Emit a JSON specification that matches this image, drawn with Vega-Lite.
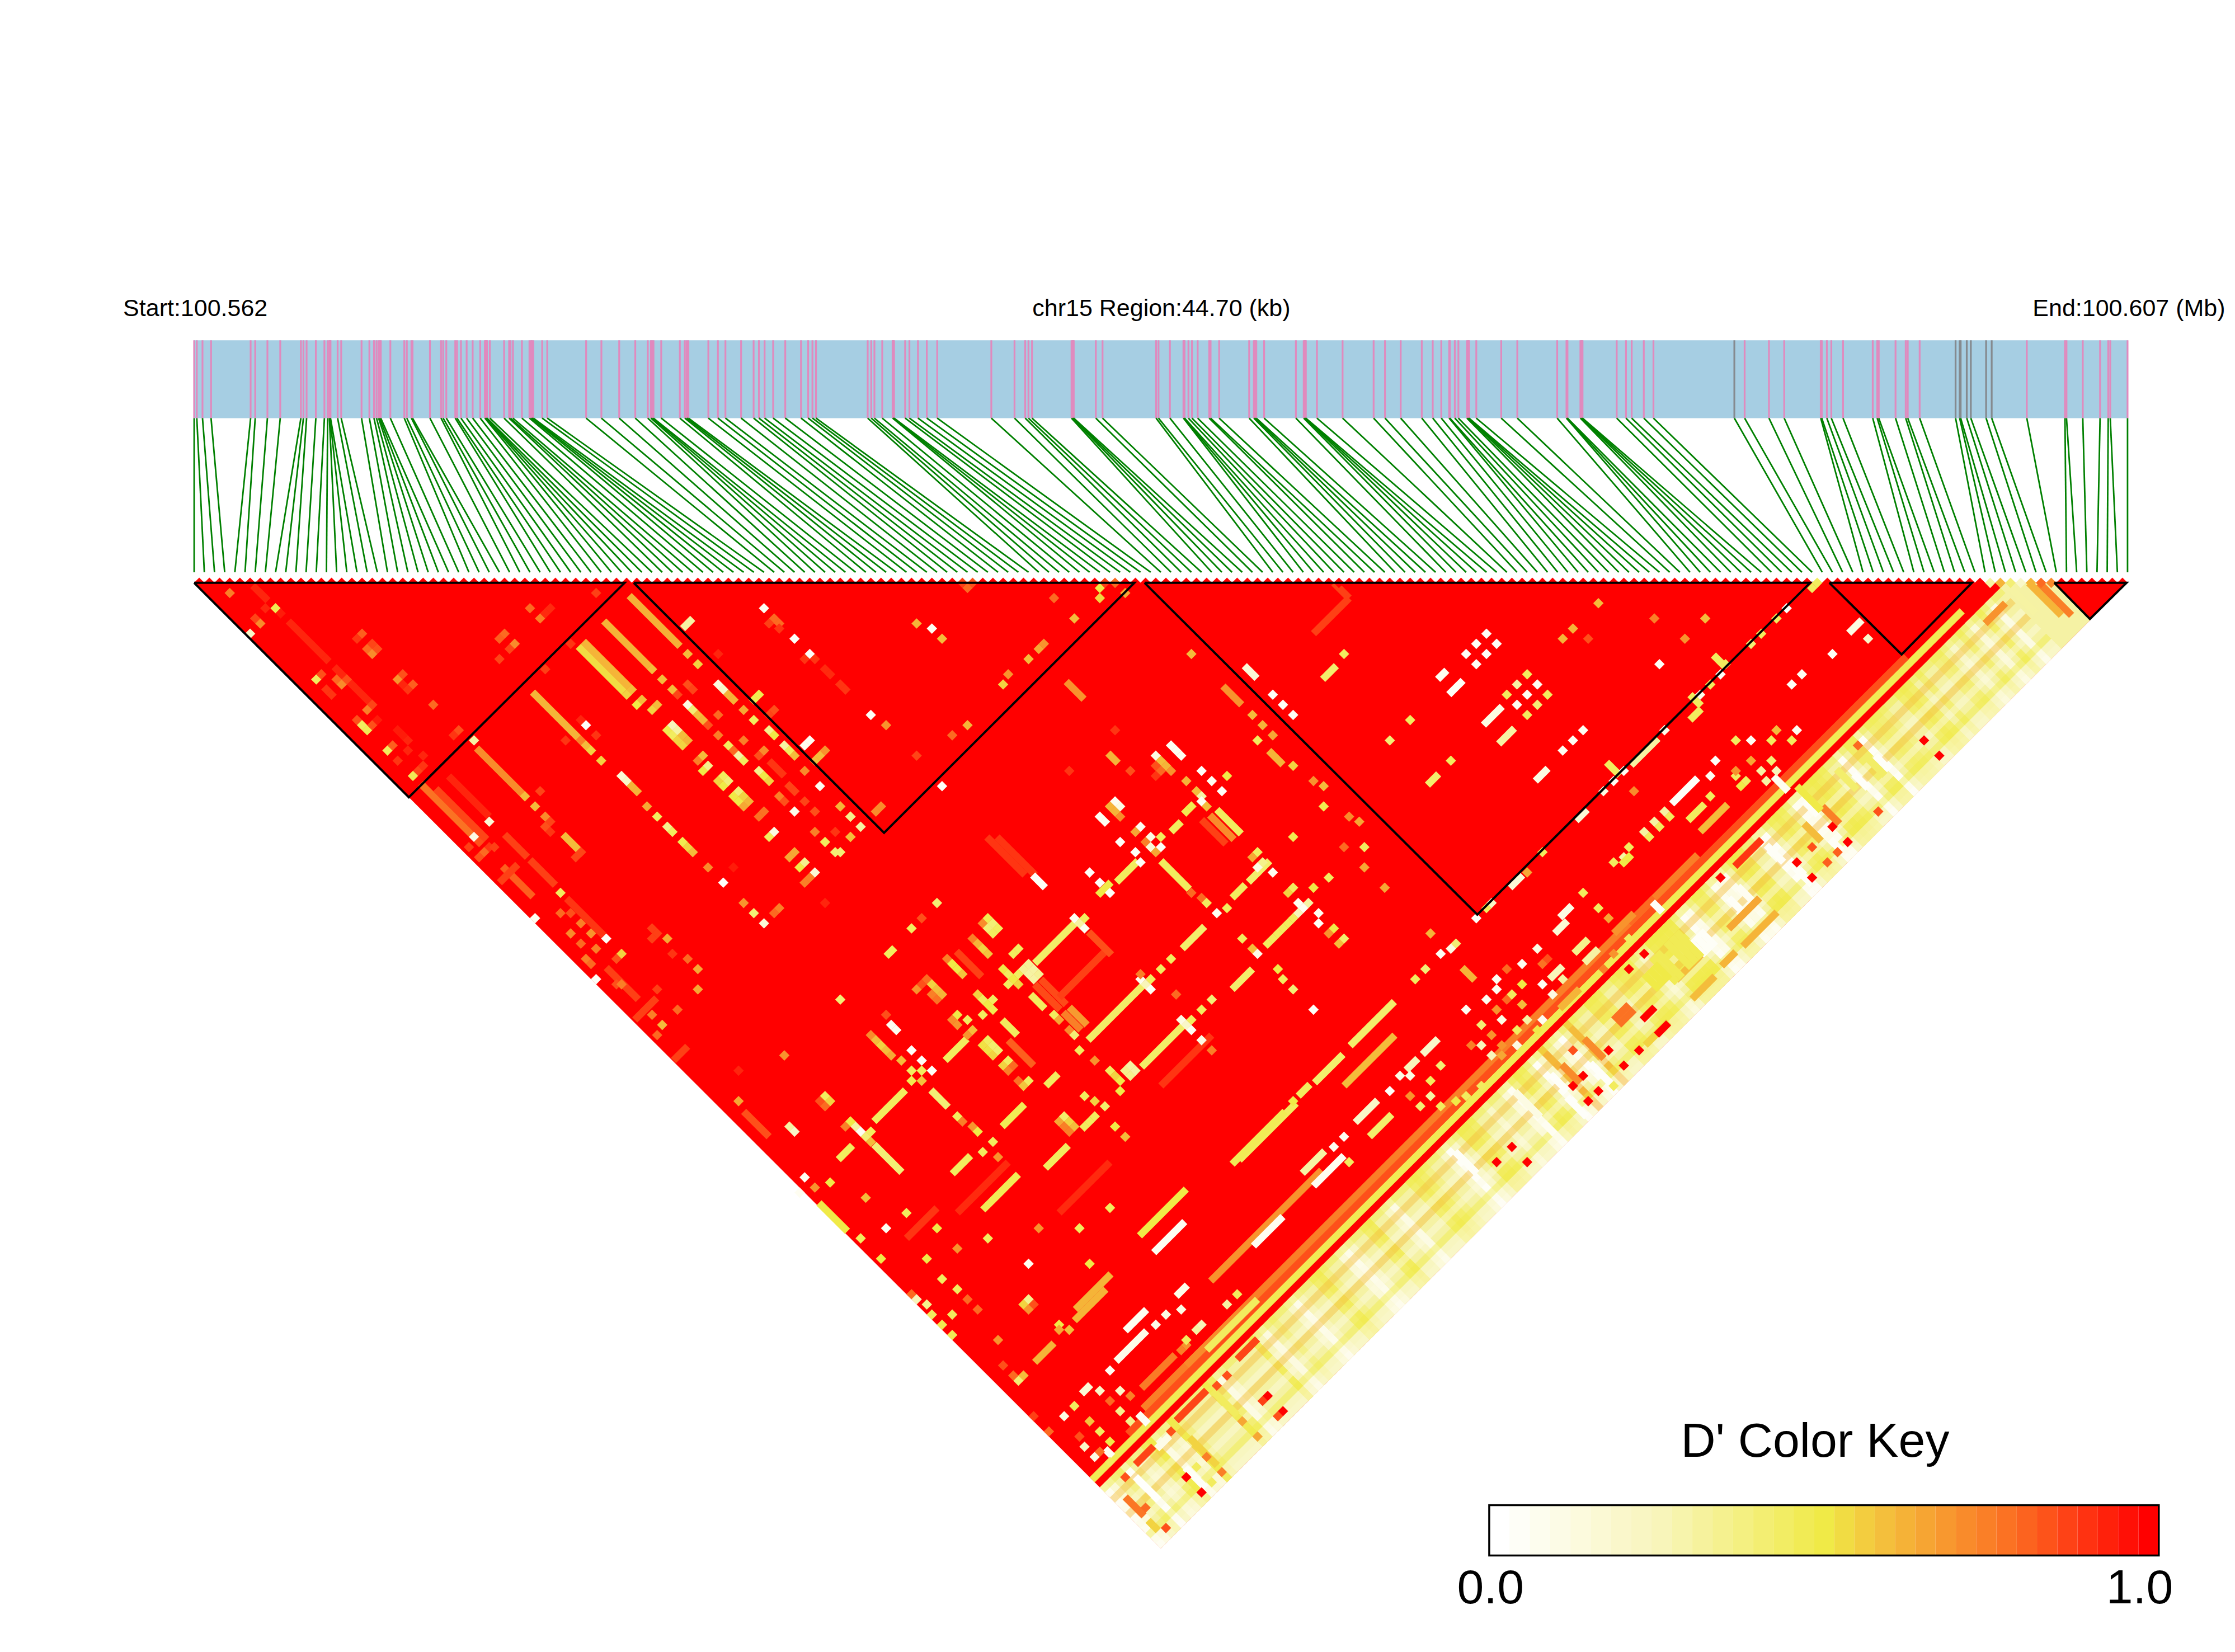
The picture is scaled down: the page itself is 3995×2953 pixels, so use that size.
{"$schema":"https://vega.github.io/schema/vega-lite/v6.json","width":3995,"height":2953,"padding":0,"autosize":{"type":"fit","contains":"padding"},"background":"white","config":{"view":{"stroke":null}},
"datasets":{
"snps":[{"t":0,"b":0},{"t":0.26,"b":1},{"t":0.82,"b":2},{"t":1.66,"b":3},{"t":5.55,"b":4},{"t":6,"b":5},{"t":7.2,"b":6},{"t":8.46,"b":7},{"t":10.49,"b":8},{"t":10.74,"b":9},{"t":11.05,"b":10},{"t":11.96,"b":11},{"t":12.8,"b":12},{"t":13.12,"b":13},{"t":13.29,"b":14},{"t":13.35,"b":15},{"t":13.4,"b":16},{"t":14.1,"b":17},{"t":14.45,"b":18},{"t":16.45,"b":19},{"t":17.22,"b":20},{"t":17.67,"b":21},{"t":17.92,"b":22},{"t":18.13,"b":23},{"t":18.23,"b":24},{"t":18.34,"b":25},{"t":19.28,"b":26},{"t":20.65,"b":27},{"t":20.9,"b":28},{"t":21.35,"b":29},{"t":21.46,"b":30},{"t":23.17,"b":31},{"t":24.26,"b":32},{"t":24.47,"b":33},{"t":24.78,"b":34},{"t":25.66,"b":35},{"t":25.83,"b":36},{"t":26.22,"b":37},{"t":26.78,"b":38},{"t":27.37,"b":39},{"t":28.11,"b":40},{"t":28.57,"b":41},{"t":28.67,"b":42},{"t":28.72,"b":43},{"t":28.78,"b":44},{"t":29.06,"b":45},{"t":30.46,"b":46},{"t":30.95,"b":47},{"t":31.09,"b":48},{"t":31.33,"b":49},{"t":32.21,"b":50},{"t":32.95,"b":51},{"t":33.12,"b":52},{"t":33.2,"b":53},{"t":33.33,"b":54},{"t":34.2,"b":55},{"t":34.7,"b":56},{"t":38.52,"b":57},{"t":40.02,"b":58},{"t":41.77,"b":59},{"t":43.35,"b":60},{"t":44.58,"b":61},{"t":44.89,"b":62},{"t":45.03,"b":63},{"t":45.14,"b":64},{"t":45.9,"b":65},{"t":47.73,"b":66},{"t":48.22,"b":67},{"t":48.4,"b":68},{"t":48.57,"b":69},{"t":50.53,"b":70},{"t":51.47,"b":71},{"t":52.21,"b":72},{"t":53.75,"b":73},{"t":54.98,"b":74},{"t":55.5,"b":75},{"t":56.06,"b":76},{"t":56.9,"b":77},{"t":58.09,"b":78},{"t":59.64,"b":79},{"t":60.34,"b":80},{"t":60.76,"b":81},{"t":61.11,"b":82},{"t":66.19,"b":83},{"t":66.54,"b":84},{"t":66.85,"b":85},{"t":67.62,"b":86},{"t":68.64,"b":87},{"t":68.7,"b":88},{"t":68.78,"b":89},{"t":69.87,"b":90},{"t":70.29,"b":91},{"t":71.13,"b":92},{"t":72,"b":93},{"t":73.02,"b":94},{"t":78.34,"b":95},{"t":80.62,"b":96},{"t":81.67,"b":97},{"t":81.99,"b":98},{"t":82.34,"b":99},{"t":86.22,"b":100},{"t":86.33,"b":101},{"t":86.38,"b":102},{"t":86.44,"b":103},{"t":88.61,"b":104},{"t":89.27,"b":105},{"t":94.53,"b":106},{"t":94.77,"b":107},{"t":95.89,"b":108},{"t":97.22,"b":109},{"t":97.27,"b":110},{"t":97.33,"b":111},{"t":97.71,"b":112},{"t":98.06,"b":113},{"t":98.62,"b":114},{"t":99.75,"b":115},{"t":99.89,"b":116},{"t":100.73,"b":117},{"t":103.68,"b":118},{"t":104.14,"b":119},{"t":104.26,"b":120},{"t":104.38,"b":121},{"t":105.15,"b":122},{"t":108.27,"b":123},{"t":109.04,"b":124},{"t":109.15,"b":125},{"t":109.2,"b":126},{"t":109.25,"b":127},{"t":110.34,"b":128},{"t":112.86,"b":129},{"t":115.91,"b":130},{"t":117.03,"b":131},{"t":118.57,"b":132},{"t":120.64,"b":133},{"t":121.72,"b":134},{"t":122.56,"b":135},{"t":123.33,"b":136},{"t":123.4,"b":137},{"t":123.89,"b":138},{"t":124.24,"b":139},{"t":125.08,"b":140},{"t":125.19,"b":141},{"t":125.24,"b":142},{"t":125.29,"b":143},{"t":126,"b":144},{"t":128.45,"b":145},{"t":130.03,"b":146},{"t":133.95,"b":147},{"t":134.86,"b":148},{"t":134.9,"b":149},{"t":134.96,"b":150},{"t":136.23,"b":151},{"t":136.33,"b":152},{"t":136.38,"b":153},{"t":136.44,"b":154},{"t":139.8,"b":155},{"t":140.71,"b":156},{"t":141.27,"b":157},{"t":142.46,"b":158},{"t":143.41,"b":159},{"t":151.36,"b":160,"g":1},{"t":152.37,"b":161},{"t":154.76,"b":162},{"t":156.26,"b":163},{"t":159.85,"b":164},{"t":159.95,"b":165},{"t":160.45,"b":166},{"t":160.89,"b":167},{"t":162.04,"b":168},{"t":164.96,"b":169},{"t":165.4,"b":170},{"t":165.55,"b":171},{"t":167.2,"b":172},{"t":168.2,"b":173},{"t":168.4,"b":174},{"t":169.57,"b":175},{"t":173.1,"b":176,"g":1},{"t":173.5,"b":177,"g":1},{"t":173.6,"b":178,"g":1},{"t":174.2,"b":179,"g":1},{"t":174.6,"b":180,"g":1},{"t":176.1,"b":181,"g":1},{"t":176.65,"b":182,"g":1},{"t":180.1,"b":183},{"t":183.85,"b":184},{"t":184,"b":185},{"t":185.6,"b":186},{"t":187.3,"b":187},{"t":188.1,"b":188},{"t":188.3,"b":189},{"t":190,"b":190}],
"plaid":[{"m":89.25,"d":178.5,"m2":95.25,"d2":190.5,"v":0.05},{"m":89.75,"d":177.5,"m2":95.75,"d2":189.5,"v":0.15},{"m":90.75,"d":175.5,"m2":96.75,"d2":187.5,"v":0.36},{"m":91.25,"d":174.5,"m2":97.25,"d2":186.5,"v":0.03},{"m":92.25,"d":172.5,"m2":98.25,"d2":184.5,"v":0.2},{"m":92.75,"d":171.5,"m2":98.75,"d2":183.5,"v":0.25},{"m":93.25,"d":170.5,"m2":99.25,"d2":182.5,"v":0.4},{"m":93.75,"d":169.5,"m2":99.75,"d2":181.5,"v":0.48},{"m":94.25,"d":168.5,"m2":100.25,"d2":180.5,"v":0.1},{"m":94.75,"d":167.5,"m2":100.75,"d2":179.5,"v":0.25},{"m":95.25,"d":166.5,"m2":101.25,"d2":178.5,"v":0.2},{"m":95.75,"d":165.5,"m2":101.75,"d2":177.5,"v":0.48},{"m":96.25,"d":164.5,"m2":102.25,"d2":176.5,"v":0.36},{"m":99.25,"d":158.5,"m2":105.25,"d2":170.5,"v":0.47},{"m":99.75,"d":157.5,"m2":105.75,"d2":169.5,"v":0.4},{"m":100.25,"d":156.5,"m2":106.25,"d2":168.5,"v":0.1},{"m":100.75,"d":155.5,"m2":106.75,"d2":167.5,"v":0.2},{"m":103.75,"d":149.5,"m2":109.75,"d2":161.5,"v":0.45},{"m":104.25,"d":148.5,"m2":110.25,"d2":160.5,"v":0.25},{"m":104.75,"d":147.5,"m2":110.75,"d2":159.5,"v":0.12},{"m":105.75,"d":145.5,"m2":111.75,"d2":157.5,"v":0.36},{"m":107.25,"d":142.5,"m2":113.25,"d2":154.5,"v":0.2},{"m":107.75,"d":141.5,"m2":113.75,"d2":153.5,"v":0.08},{"m":108.25,"d":140.5,"m2":114.25,"d2":152.5,"v":0.25},{"m":109.75,"d":137.5,"m2":115.75,"d2":149.5,"v":0.42},{"m":110.25,"d":136.5,"m2":116.25,"d2":148.5,"v":0.45},{"m":110.75,"d":135.5,"m2":116.75,"d2":147.5,"v":0.36},{"m":112.25,"d":132.5,"m2":118.25,"d2":144.5,"v":0.15},{"m":112.75,"d":131.5,"m2":118.75,"d2":143.5,"v":0.08},{"m":113.25,"d":130.5,"m2":119.25,"d2":142.5,"v":0.2},{"m":114.75,"d":127.5,"m2":120.75,"d2":139.5,"v":0.42},{"m":115.25,"d":126.5,"m2":121.25,"d2":138.5,"v":0.45},{"m":116.75,"d":123.5,"m2":122.75,"d2":135.5,"v":0.2},{"m":117.25,"d":122.5,"m2":123.25,"d2":134.5,"v":0.1},{"m":119.25,"d":118.5,"m2":125.25,"d2":130.5,"v":0.42},{"m":119.75,"d":117.5,"m2":125.75,"d2":129.5,"v":0.45},{"m":120.25,"d":116.5,"m2":126.25,"d2":128.5,"v":0.42},{"m":120.75,"d":115.5,"m2":126.75,"d2":127.5,"v":0.36},{"m":122.25,"d":112.5,"m2":128.25,"d2":124.5,"v":0.2},{"m":122.75,"d":111.5,"m2":128.75,"d2":123.5,"v":0.03},{"m":123.25,"d":110.5,"m2":129.25,"d2":122.5,"v":0.2},{"m":124.25,"d":108.5,"m2":130.25,"d2":120.5,"v":0.45},{"m":124.75,"d":107.5,"m2":130.75,"d2":119.5,"v":0.45},{"m":125.25,"d":106.5,"m2":131.25,"d2":118.5,"v":0.42},{"m":126.75,"d":103.5,"m2":132.75,"d2":115.5,"v":0.2},{"m":128.25,"d":100.5,"m2":134.25,"d2":112.5,"v":0.15},{"m":128.75,"d":99.5,"m2":134.75,"d2":111.5,"v":0.05},{"m":129.25,"d":98.5,"m2":135.25,"d2":110.5,"v":0.36},{"m":129.75,"d":97.5,"m2":135.75,"d2":109.5,"v":0.45},{"m":130.25,"d":96.5,"m2":136.25,"d2":108.5,"v":0.42},{"m":131.25,"d":94.5,"m2":137.25,"d2":106.5,"v":0.03},{"m":131.75,"d":93.5,"m2":137.75,"d2":105.5,"v":0.2},{"m":132.25,"d":92.5,"m2":138.25,"d2":104.5,"v":0.62},{"m":133.25,"d":90.5,"m2":139.25,"d2":102.5,"v":0.15},{"m":133.75,"d":89.5,"m2":139.75,"d2":101.5,"v":0.03},{"m":134.75,"d":87.5,"m2":140.75,"d2":99.5,"v":0.6},{"m":135.25,"d":86.5,"m2":141.25,"d2":98.5,"v":0.36},{"m":136.75,"d":83.5,"m2":142.75,"d2":95.5,"v":0.45},{"m":137.25,"d":82.5,"m2":143.25,"d2":94.5,"v":0.45},{"m":137.75,"d":81.5,"m2":143.75,"d2":93.5,"v":0.42},{"m":139.25,"d":78.5,"m2":145.25,"d2":90.5,"v":0.42},{"m":139.75,"d":77.5,"m2":145.75,"d2":89.5,"v":0.45},{"m":140.25,"d":76.5,"m2":146.25,"d2":88.5,"v":0.45},{"m":140.75,"d":75.5,"m2":146.75,"d2":87.5,"v":0.42},{"m":141.75,"d":73.5,"m2":147.75,"d2":85.5,"v":0.2},{"m":142.75,"d":71.5,"m2":148.75,"d2":83.5,"v":0.47},{"m":143.25,"d":70.5,"m2":149.25,"d2":82.5,"v":0.48},{"m":143.75,"d":69.5,"m2":149.75,"d2":81.5,"v":0.48},{"m":144.25,"d":68.5,"m2":150.25,"d2":80.5,"v":0.48},{"m":144.75,"d":67.5,"m2":150.75,"d2":79.5,"v":0.47},{"m":145.75,"d":65.5,"m2":151.75,"d2":77.5,"v":0.04},{"m":146.25,"d":64.5,"m2":152.25,"d2":76.5,"v":0.08},{"m":147.25,"d":62.5,"m2":153.25,"d2":74.5,"v":0.42},{"m":147.75,"d":61.5,"m2":153.75,"d2":73.5,"v":0.42},{"m":148.75,"d":59.5,"m2":154.75,"d2":71.5,"v":0.06},{"m":149.25,"d":58.5,"m2":155.25,"d2":70.5,"v":0.1},{"m":149.75,"d":57.5,"m2":155.75,"d2":69.5,"v":0.06},{"m":150.75,"d":55.5,"m2":156.75,"d2":67.5,"v":0.45},{"m":151.25,"d":54.5,"m2":157.25,"d2":66.5,"v":0.47},{"m":151.75,"d":53.5,"m2":157.75,"d2":65.5,"v":0.45},{"m":153.25,"d":50.5,"m2":159.25,"d2":62.5,"v":0.03},{"m":153.75,"d":49.5,"m2":159.75,"d2":61.5,"v":0.03},{"m":154.75,"d":47.5,"m2":160.75,"d2":59.5,"v":0.42},{"m":155.25,"d":46.5,"m2":161.25,"d2":58.5,"v":0.45},{"m":155.75,"d":45.5,"m2":161.75,"d2":57.5,"v":0.42},{"m":156.75,"d":43.5,"m2":162.75,"d2":55.5,"v":0.05},{"m":157.25,"d":42.5,"m2":163.25,"d2":54.5,"v":0.05},{"m":158.25,"d":40.5,"m2":164.25,"d2":52.5,"v":0.45},{"m":158.75,"d":39.5,"m2":164.75,"d2":51.5,"v":0.47},{"m":159.25,"d":38.5,"m2":165.25,"d2":50.5,"v":0.45},{"m":159.75,"d":37.5,"m2":165.75,"d2":49.5,"v":0.42},{"m":161.25,"d":34.5,"m2":167.25,"d2":46.5,"v":0.04},{"m":162.25,"d":32.5,"m2":168.25,"d2":44.5,"v":0.43},{"m":162.75,"d":31.5,"m2":168.75,"d2":43.5,"v":0.43},{"m":163.25,"d":30.5,"m2":169.25,"d2":42.5,"v":0.03},{"m":164.25,"d":28.5,"m2":170.25,"d2":40.5,"v":0.4},{"m":164.75,"d":27.5,"m2":170.75,"d2":39.5,"v":0.42},{"m":165.25,"d":26.5,"m2":171.25,"d2":38.5,"v":0.4},{"m":165.75,"d":25.5,"m2":171.75,"d2":37.5,"v":0.36},{"m":167.25,"d":22.5,"m2":173.25,"d2":34.5,"v":0.42},{"m":167.75,"d":21.5,"m2":173.75,"d2":33.5,"v":0.45},{"m":168.25,"d":20.5,"m2":174.25,"d2":32.5,"v":0.42},{"m":169.25,"d":18.5,"m2":175.25,"d2":30.5,"v":0.4},{"m":170.75,"d":15.5,"m2":176.75,"d2":27.5,"v":0.38},{"m":171.25,"d":14.5,"m2":177.25,"d2":26.5,"v":0.4},{"m":172.25,"d":12.5,"m2":178.25,"d2":24.5,"v":0.2},{"m":173.25,"d":10.5,"m2":179.25,"d2":22.5,"v":0.4},{"m":174.25,"d":8.5,"m2":180.25,"d2":20.5,"v":0.15},{"m":175.25,"d":6.5,"m2":181.25,"d2":18.5,"v":0.42},{"m":176.25,"d":4.5,"m2":182.25,"d2":16.5,"v":0.1}],
"cross":[{"m":177.75,"d":2.5,"m2":89.25,"d2":179.5,"v":0.5},{"m":178.75,"d":4.5,"m2":90.25,"d2":181.5,"v":0.6},{"m":179.75,"d":6.5,"m2":91.25,"d2":183.5,"v":0.1},{"m":180.25,"d":7.5,"m2":91.75,"d2":184.5,"v":0.6},{"m":181.25,"d":9.5,"m2":92.75,"d2":186.5,"v":0.1},{"m":182.25,"d":11.5,"m2":93.75,"d2":188.5,"v":0.5},{"m":182.75,"d":12.5,"m2":94.25,"d2":189.5,"v":0.1},{"m":183.25,"d":13.5,"m2":94.75,"d2":190.5,"v":0.05}],
"runs":[
{"m":173.75,"d":6.5,"m2":88.25,"d2":177.5,"v":0.47},{"m":168.25,"d":15.5,"m2":91.75,"d2":168.5,"v":0.85},{"m":147.75,"d":54.5,"m2":93.25,"d2":163.5,"v":0.75},
{"m":93.1,"d":159.5,"m2":96.4,"d2":152.9,"v":0.76},{"m":148,"d":50,"m2":150.7,"d2":44.6,"v":0.6},
{"m":61.4,"d":123,"m2":64.2,"d2":128.6,"v":0.5},{"m":77.5,"d":124.4,"m2":81,"d2":117.4,"v":0.47},{"m":86.6,"d":144,"m2":90.1,"d2":137,"v":0.62},{"m":92.9,"d":129.5,"m2":97.5,"d2":120.3,"v":0.5},{"m":102.7,"d":114.6,"m2":108.3,"d2":103.4,"v":0.45},{"m":94.3,"d":132.8,"m2":97.35,"d2":126.7,"v":0.05},{"m":91.5,"d":148.2,"m2":93.6,"d2":144,"v":0.05},{"m":99.9,"d":138.4,"m2":110.8,"d2":116.6,"v":0.7},{"m":104.1,"d":131.5,"m2":107,"d2":125.7,"v":0.05},{"m":110,"d":119.7,"m2":113,"d2":113.7,"v":0.05},{"m":97.5,"d":155,"m2":103,"d2":144,"v":0.72},{"m":99.5,"d":152,"m2":104.5,"d2":142,"v":0.45},{"m":75,"d":125,"m2":80,"d2":115,"v":0.92},{"m":85,"d":125,"m2":90,"d2":115,"v":0.92},{"m":95,"d":100,"m2":100,"d2":90,"v":0.9},{"m":70,"d":130,"m2":73,"d2":124,"v":0.9},{"m":113,"d":100,"m2":118,"d2":90,"v":0.6},
{"m":5.25,"d":0.5,"m2":7.25,"d2":4.5,"v":0.93},{"m":9.25,"d":8.5,"m2":12.75,"d2":15.5,"v":0.93},{"m":13.75,"d":17.5,"m2":17.75,"d2":25.5,"v":0.93},
{"m":42.75,"d":3.5,"m2":47.75,"d2":13.5,"v":0.63},{"m":40.25,"d":8.5,"m2":44.75,"d2":17.5,"v":0.62},{"m":37.75,"d":13.5,"m2":42.25,"d2":22.5,"v":0.53},{"m":38.25,"d":12.5,"m2":42.75,"d2":21.5,"v":0.62},{"m":33.25,"d":22.5,"m2":37.75,"d2":31.5,"v":0.62},{"m":27.75,"d":33.5,"m2":32.25,"d2":42.5,"v":0.72},
{"m":22.25,"d":40.5,"m2":27.25,"d2":50.5,"v":0.78},{"m":23.75,"d":41.5,"m2":28.75,"d2":51.5,"v":0.87},{"m":25,"d":39,"m2":29,"d2":47,"v":0.93},{"m":30.5,"d":50.5,"m2":32.75,"d2":55,"v":0.88},{"m":33,"d":55.5,"m2":35.5,"d2":60.5,"v":0.88},{"m":30.3,"d":56.8,"m2":33.3,"d2":62.8,"v":0.82},{"m":30,"d":60,"m2":31.8,"d2":56.4,"v":0.88},{"m":36.6,"d":63.1,"m2":40.25,"d2":70.4,"v":0.9},{"m":40.5,"d":76.7,"m2":43.65,"d2":83,"v":0.88},{"m":43.3,"d":87,"m2":45.45,"d2":82.7,"v":0.88},{"m":47.1,"d":95,"m2":48.5,"d2":92.2,"v":0.88},{"m":54,"d":105,"m2":56.5,"d2":110,"v":0.85},{"m":56.5,"d":36,"m2":58,"d2":39,"v":0.9},
{"m":48,"d":10,"m2":49,"d2":8,"v":0.3},{"m":36.25,"d":50.5,"m2":38.25,"d2":54.5,"v":0.6},
{"m":77.9,"d":51,"m2":81.65,"d2":58.5,"v":0.9},{"m":78.9,"d":51,"m2":82.65,"d2":58.5,"v":0.9},{"m":82.4,"d":58.5,"m2":83.65,"d2":61,"v":0.03},
{"m":100.5,"d":45.6,"m2":102.9,"d2":50.4,"v":0.45},{"m":99.8,"d":46.7,"m2":102.2,"d2":51.5,"v":0.72},{"m":99,"d":47.6,"m2":101.4,"d2":52.4,"v":0.88},
{"m":96,"d":50,"m2":97,"d2":48,"v":0.45},{"m":90.65,"d":59.9,"m2":92.75,"d2":55.7,"v":0.45},{"m":95,"d":55.7,"m2":97.8,"d2":61.3,"v":0.45},{"m":102,"d":63,"m2":103.3,"d2":60.4,"v":0.45},{"m":88.8,"d":62.5,"m2":90.1,"d2":59.9,"v":0.5},
{"m":68,"d":74.5,"m2":68.85,"d2":72.8,"v":0.45},{"m":74.9,"d":73.5,"m2":77.4,"d2":78.5,"v":0.88},{"m":82.6,"d":75.9,"m2":86.8,"d2":67.5,"v":0.43},
{"m":83.2,"d":79,"m2":85.7,"d2":84,"v":0.86},{"m":82.6,"d":80,"m2":85.1,"d2":85,"v":0.86},{"m":86,"d":84.5,"m2":87.75,"d2":88,"v":0.68},{"m":85.4,"d":85.5,"m2":87.15,"d2":89,"v":0.75},{"m":82.2,"d":82,"m2":83.6,"d2":84.8,"v":0.45},{"m":85,"d":82.6,"m2":89.8,"d2":73,"v":0.88},{"m":87.9,"d":69.7,"m2":90.15,"d2":74.2,"v":0.85},
{"m":79.4,"d":87,"m2":80.9,"d2":90,"v":0.45},{"m":73.8,"d":95,"m2":75.95,"d2":90.7,"v":0.45},{"m":80,"d":91,"m2":82.5,"d2":96,"v":0.82},{"m":83.7,"d":100,"m2":84.9,"d2":97.6,"v":0.45},{"m":93.1,"d":96.3,"m2":97.15,"d2":88.2,"v":0.43},{"m":87.85,"d":91,"m2":93.35,"d2":80,"v":0.43},{"m":97.1,"d":73,"m2":99.3,"d2":68.6,"v":0.42},{"m":102,"d":81,"m2":104,"d2":77,"v":0.42},{"m":103.6,"d":59.9,"m2":105.7,"d2":55.7,"v":0.42},{"m":113.6,"d":92.1,"m2":117.95,"d2":83.4,"v":0.42},{"m":102,"d":115.4,"m2":107.2,"d2":105,"v":0.47},{"m":108.5,"d":102,"m2":109.65,"d2":99.7,"v":0.45},{"m":110.1,"d":99.4,"m2":112.9,"d2":93.8,"v":0.42},{"m":114.1,"d":107.2,"m2":116.3,"d2":102.8,"v":0.2},{"m":115.5,"d":110,"m2":117.7,"d2":105.6,"v":0.42},{"m":83.65,"d":116.2,"m2":85.9,"d2":111.7,"v":0.45},{"m":74.5,"d":117.3,"m2":76.3,"d2":113.7,"v":0.45},{"m":79.4,"d":108,"m2":81.6,"d2":103.6,"v":0.47},{"m":66.8,"d":107,"m2":69.9,"d2":100.8,"v":0.45},{"m":72.4,"d":100.8,"m2":74.1,"d2":104.2,"v":0.4},{"m":66.8,"d":111.5,"m2":69.55,"d2":117,"v":0.4},{"m":63.3,"d":114.5,"m2":64.7,"d2":111.7,"v":0.45},{"m":108.9,"d":117.2,"m2":111.1,"d2":112.8,"v":0.3},{"m":89.8,"d":34.5,"m2":90.8,"d2":36.5,"v":0.62},{"m":105.6,"d":34,"m2":107,"d2":36.8,"v":0.62},
{"m":121.2,"d":40.8,"m2":122.3,"d2":38.6,"v":0.42},{"m":131.8,"d":40,"m2":133.05,"d2":37.5,"v":0.1},{"m":128.2,"d":32.7,"m2":129.75,"d2":29.6,"v":0.3},{"m":138.8,"d":36.3,"m2":140.1,"d2":38.9,"v":0.45},{"m":135.8,"d":47.8,"m2":136.9,"d2":45.6,"v":0.15},{"m":129.3,"d":61,"m2":130.55,"d2":58.5,"v":0.15},{"m":141.2,"d":36.9,"m2":143.85,"d2":31.6,"v":0.3},{"m":145.2,"d":44.5,"m2":147.75,"d2":39.4,"v":0.03},{"m":146.8,"d":47.8,"m2":148.45,"d2":44.5,"v":0.45},{"m":134.2,"d":66.9,"m2":135.4,"d2":64.5,"v":0.1},{"m":133.7,"d":70,"m2":134.95,"d2":67.5,"v":0.15},{"m":124.6,"d":76.7,"m2":125.85,"d2":79.2,"v":0.62},{"m":133.2,"d":79,"m2":134.5,"d2":76.4,"v":0.25},{"m":155.2,"d":39.1,"m2":156.65,"d2":42,"v":0.05},
{"m":120.7,"d":93.8,"m2":122.25,"d2":90.7,"v":0.2},{"m":119.1,"d":96.9,"m2":120.25,"d2":94.6,"v":0.25},{"m":134.2,"d":84.8,"m2":136.15,"d2":80.9,"v":0.62},{"m":136.6,"d":75.8,"m2":138,"d2":73,"v":0.3},{"m":135.6,"d":73.9,"m2":137,"d2":71.1,"v":0.35},{"m":141,"d":68,"m2":143.5,"d2":63,"v":0.8},{"m":139.5,"d":70,"m2":141.5,"d2":66,"v":0.7},{"m":143.3,"d":63.8,"m2":144.3,"d2":65.8,"v":0.03},
{"m":154.5,"d":52.6,"m2":156.2,"d2":56,"v":0.03},{"m":157.2,"d":56.8,"m2":159,"d2":60.4,"v":0.03},{"m":150.8,"d":63,"m2":152.2,"d2":65.8,"v":0.03},{"m":151.7,"d":60.7,"m2":153.4,"d2":64.1,"v":0.05},{"m":165.2,"d":35,"m2":166.6,"d2":37.8,"v":0.02},{"m":163.1,"d":38.6,"m2":164.5,"d2":41.4,"v":0.02},{"m":160.8,"d":51.5,"m2":161.9,"d2":53.7,"v":0.03},{"m":158.2,"d":43.9,"m2":159.6,"d2":46.7,"v":0.03},{"m":137.2,"d":95.5,"m2":139.45,"d2":100,"v":0.02},{"m":133.3,"d":97.7,"m2":134.95,"d2":101,"v":0.02},{"m":134.9,"d":102.2,"m2":136.85,"d2":106.1,"v":0.02},{"m":129.8,"d":101.1,"m2":132.3,"d2":106.1,"v":0.1},{"m":123.9,"d":112.9,"m2":126.05,"d2":117.2,"v":0.03},{"m":132.6,"d":107.2,"m2":133.75,"d2":109.5,"v":0.05},{"m":148,"d":69.5,"m2":149.5,"d2":72.5,"v":0.03},{"m":147.5,"d":70.5,"m2":149,"d2":73.5,"v":0.03},{"m":147,"d":71.5,"m2":148.5,"d2":74.5,"v":0.03},
{"m":134.4,"d":95.8,"m2":136.2,"d2":99.4,"v":0.72},{"m":136.6,"d":90.7,"m2":138.55,"d2":94.6,"v":0.72},{"m":145.6,"d":79.2,"m2":148.1,"d2":74.2,"v":0.6},{"m":147.2,"d":82.9,"m2":149.45,"d2":78.4,"v":0.6},{"m":160,"d":45,"m2":161.7,"d2":48.4,"v":0.75},{"m":158.2,"d":48.4,"m2":159.9,"d2":51.8,"v":0.6},{"m":150.8,"d":69.1,"m2":153.85,"d2":63,"v":0.65},{"m":152.2,"d":72.5,"m2":155.55,"d2":65.8,"v":0.62},{"m":150.1,"d":76.4,"m2":151.5,"d2":73.6,"v":0.62},{"m":151.4,"d":56.8,"m2":154.05,"d2":51.5,"v":0.9},{"m":161.4,"d":37.7,"m2":163.4,"d2":41.7,"v":0.42},{"m":164.2,"d":35,"m2":166.15,"d2":38.9,"v":0.43},{"m":157.5,"d":41,"m2":159.9,"d2":45.8,"v":0.5},
{"m":144.65,"d":71.7,"m2":147.15,"d2":76.7,"v":0.47},{"m":145.15,"d":70.7,"m2":147.65,"d2":75.7,"v":0.47},{"m":145.65,"d":69.7,"m2":148.15,"d2":74.7,"v":0.47},{"m":143.75,"d":73.7,"m2":146.25,"d2":78.7,"v":0.47},{"m":143.25,"d":74.7,"m2":145.75,"d2":79.7,"v":0.47},{"m":143.5,"d":76,"m2":145,"d2":79,"v":0.5},{"m":143,"d":77,"m2":144.5,"d2":80,"v":0.5},{"m":142.5,"d":78,"m2":144,"d2":81,"v":0.5},{"m":142.6,"d":92,"m2":144.9,"d2":87.4,"v":0.55},
{"m":139.5,"d":87,"m2":141,"d2":84,"v":0.78},{"m":140,"d":88,"m2":141.5,"d2":85,"v":0.78},
{"m":142.3,"d":87,"m2":143.55,"d2":84.5,"v":1},{"m":143.7,"d":90,"m2":144.9,"d2":87.6,"v":1},
{"m":86.5,"d":146.2,"m2":89.6,"d2":140,"v":0.62},{"m":82.6,"d":154.4,"m2":84.5,"d2":150.6,"v":0.62},{"m":90.6,"d":154.2,"m2":93.6,"d2":148.2,"v":0.08},{"m":96.5,"d":141.4,"m2":97.6,"d2":139.2,"v":0.08},{"m":87.2,"d":160.6,"m2":88.1,"d2":158.8,"v":0.15},{"m":89.5,"d":171.4,"m2":90.25,"d2":172.9,"v":0.05},
{"m":91.5,"d":180.9,"m2":93.35,"d2":184.6,"v":0.77},{"m":96.5,"d":165.9,"m2":99.5,"d2":159.9,"v":0.87},{"m":102.5,"d":153.8,"m2":104.5,"d2":149.8,"v":0.87},{"m":92.5,"d":174.5,"m2":94.3,"d2":170.9,"v":0.87},{"m":92.5,"d":176.9,"m2":94.8,"d2":181.5,"v":0.01},{"m":97.4,"d":175.1,"m2":99.4,"d2":179.1,"v":0.03},{"m":94.6,"d":171.4,"m2":95.85,"d2":168.9,"v":0.08},{"m":100.1,"d":160,"m2":102.5,"d2":164.8,"v":0.45},{"m":97.8,"d":169.2,"m2":100.55,"d2":174.7,"v":0.55},
{"m":181.3,"d":1,"m2":184.5,"d2":7.4,"v":0.75},{"m":180.3,"d":1,"m2":183.5,"d2":7.4,"v":0.62},{"m":178.5,"d":2,"m2":181,"d2":7,"v":0.3},{"m":176,"d":9,"m2":178,"d2":5,"v":0.7},
{"m":110.9,"d":20,"m2":112.25,"d2":17.3,"v":0.42},{"m":103.2,"d":17.3,"m2":104.45,"d2":19.8,"v":0.15},{"m":101.1,"d":21.3,"m2":102.95,"d2":25,"v":0.7},{"m":85.7,"d":20.4,"m2":87.45,"d2":23.9,"v":0.7},{"m":122.2,"d":20,"m2":123.1,"d2":18.2,"v":0.05},{"m":123.3,"d":23,"m2":124.7,"d2":20.2,"v":0.03},{"m":126.7,"d":29,"m2":128.55,"d2":25.3,"v":0.1},{"m":112,"d":1,"m2":113.5,"d2":4,"v":0.88},{"m":113.5,"d":4,"m2":110,"d2":11,"v":0.88},{"m":162.6,"d":10.9,"m2":163.9,"d2":8.3,"v":0.1},{"m":149.3,"d":15.2,"m2":150.5,"d2":17.6,"v":0.45},{"m":147,"d":23,"m2":148.1,"d2":25.2,"v":0.45},{"m":147,"d":28,"m2":148.1,"d2":25.8,"v":0.45}
],
"cells":[
{"m":65.5,"d":130,"v":0.45},{"m":67.5,"d":134,"v":0.5},{"m":72,"d":134,"v":0.5},{"m":73.5,"d":138,"v":0.45},{"m":74.5,"d":145,"v":0.45},{"m":81.5,"d":143,"v":0.55},{"m":85,"d":147,"v":0.5},{"m":60,"d":118,"v":0.05},{"m":61,"d":120,"v":0.7},{"m":59.5,"d":121,"v":0.05},{"m":62.5,"d":119,"v":0.5},{"m":66,"d":122,"v":0.6},{"m":70,"d":125,"v":0.45},{"m":73,"d":128,"v":0.5},{"m":75,"d":132,"v":0.7},{"m":68,"d":128,"v":0.05},{"m":78,"d":130,"v":0.45},{"m":83,"d":128,"v":0.7},{"m":87,"d":128,"v":0.45},{"m":90,"d":124,"v":0.45},{"m":82,"d":135,"v":0.05},{"m":88,"d":135,"v":0.5},
{"m":3.5,"d":3,"v":0.75},{"m":8,"d":6,"v":0.48},{"m":7,"d":6,"v":0.93},{"m":8.5,"d":7,"v":0.95},{"m":6.5,"d":9,"v":0.72},{"m":6,"d":8,"v":0.87},{"m":5.5,"d":11,"v":0.2},{"m":12,"d":20,"v":0.45},{"m":12.5,"d":19,"v":0.85},{"m":14,"d":20,"v":0.8},{"m":14.5,"d":21,"v":0.72},{"m":15,"d":20,"v":0.85},{"m":16.5,"d":11,"v":0.82},{"m":16,"d":12,"v":0.9},{"m":17,"d":14,"v":0.8},{"m":17.5,"d":13,"v":0.87},{"m":17.5,"d":15,"v":0.72},{"m":18,"d":14,"v":0.85},{"m":13,"d":16,"v":0.93},{"m":13,"d":22,"v":0.9},{"m":13.5,"d":23,"v":0.9},{"m":17.5,"d":25,"v":0.87},{"m":17,"d":26,"v":0.75},{"m":16,"d":28,"v":0.85},{"m":16.5,"d":29,"v":0.45},{"m":17,"d":30,"v":0.47},{"m":17.5,"d":29,"v":0.85},{"m":18,"d":28,"v":0.95},{"m":20,"d":30,"v":0.95},{"m":20.5,"d":31,"v":0.95},{"m":20,"d":20,"v":0.7},{"m":20.5,"d":19,"v":0.85},{"m":21.5,"d":21,"v":0.82},{"m":21,"d":22,"v":0.9},{"m":20.5,"d":21,"v":0.93},{"m":23.5,"d":25,"v":0.8},{"m":19,"d":34,"v":0.45},{"m":19.5,"d":33,"v":0.82},{"m":21,"d":32,"v":0.93},{"m":21,"d":34,"v":0.93},{"m":20,"d":36,"v":0.9},{"m":22.5,"d":35,"v":0.93},{"m":22,"d":38,"v":0.87},{"m":21.5,"d":39,"v":0.47},{"m":22.5,"d":37,"v":0.9},{"m":25.5,"d":31,"v":0.9},{"m":26,"d":30,"v":0.85},{"m":30.5,"d":11,"v":0.8},{"m":30,"d":12,"v":0.82},{"m":31.5,"d":13,"v":0.72},{"m":31,"d":14,"v":0.87},{"m":30,"d":16,"v":0.87},{"m":33,"d":6,"v":0.8},{"m":34,"d":8,"v":0.75},{"m":35,"d":6,"v":0.92},{"m":34.5,"d":7,"v":0.92},{"m":39.5,"d":3,"v":0.88},{"m":37,"d":13,"v":0.9},{"m":34.5,"d":18,"v":0.88},{"m":45,"d":18,"v":0.6},{"m":43,"d":22,"v":0.6},{"m":42.5,"d":23,"v":0.55},{"m":43.5,"d":25,"v":0.5},{"m":44,"d":24,"v":0.6},{"m":45,"d":26,"v":0.55},{"m":45.5,"d":25,"v":0.6},{"m":46,"d":20,"v":0.6},{"m":47,"d":22,"v":0.6},{"m":47.5,"d":23,"v":0.87},{"m":48.5,"d":21,"v":0.85},{"m":49,"d":22,"v":0.87},{"m":56,"d":6,"v":0.05},{"m":57,"d":8,"v":0.8},{"m":57.5,"d":9,"v":0.8},{"m":56.5,"d":9,"v":0.88},{"m":57.5,"d":10,"v":0.9},{"m":59,"d":12,"v":0.03},{"m":60.5,"d":15,"v":0.02},{"m":61,"d":16,"v":0.9},{"m":60,"d":16,"v":0.9},{"m":62.5,"d":19,"v":0.92},{"m":62,"d":18,"v":0.92},{"m":63.5,"d":21,"v":0.9},{"m":64,"d":22,"v":0.9},{"m":51.5,"d":15,"v":0.93},{"m":48.5,"d":15,"v":0.6},{"m":49.5,"d":17,"v":0.55},{"m":51.5,"d":21,"v":0.12},{"m":52,"d":22,"v":0.2},{"m":52.5,"d":23,"v":0.62},{"m":53,"d":24,"v":0.62},{"m":55,"d":24,"v":0.48},{"m":55.5,"d":23,"v":0.48},{"m":54,"d":26,"v":0.65},{"m":55,"d":28,"v":0.45},{"m":56.5,"d":30,"v":0.35},{"m":57,"d":31,"v":0.5},{"m":57,"d":26,"v":0.85},{"m":56.5,"d":27,"v":0.87},{"m":51.5,"d":27,"v":0.8},{"m":48.5,"d":25,"v":0.1},{"m":49,"d":26,"v":0.4},{"m":49.5,"d":27,"v":0.6},{"m":50,"d":28,"v":0.62},{"m":50.5,"d":29,"v":0.85},{"m":46.5,"d":30,"v":0.48},{"m":47,"d":29,"v":0.25},{"m":47,"d":31,"v":0.45},{"m":47.5,"d":30,"v":0.3},{"m":47.5,"d":32,"v":0.55},{"m":48,"d":31,"v":0.6},{"m":48,"d":33,"v":0.55},{"m":48.5,"d":32,"v":0.62},{"m":38.5,"d":29,"v":0.02},{"m":38,"d":28,"v":0.93},{"m":39.5,"d":31,"v":0.9},{"m":38,"d":32,"v":0.75},{"m":38.5,"d":33,"v":0.6},{"m":39,"d":34,"v":0.55},{"m":40,"d":36,"v":0.55},{"m":27.5,"d":32,"v":0.3},{"m":32.5,"d":43,"v":0.6},{"m":33.5,"d":45,"v":0.6},{"m":34.5,"d":47,"v":0.72},{"m":35,"d":48,"v":0.87},{"m":34.5,"d":49,"v":0.85},{"m":35,"d":50,"v":0.9},{"m":34,"d":42,"v":0.87},{"m":38,"d":54,"v":0.87},{"m":37.5,"d":55,"v":0.87},{"m":36.5,"d":32,"v":0.9},{"m":42,"d":39,"v":0.15},{"m":42.5,"d":40,"v":0.2},{"m":43,"d":41,"v":0.62},{"m":43.5,"d":42,"v":0.62},{"m":44.5,"d":45,"v":0.65},{"m":45.5,"d":47,"v":0.45},{"m":46.5,"d":49,"v":0.35},{"m":47,"d":50,"v":0.45},{"m":48,"d":52,"v":0.48},{"m":48.5,"d":53,"v":0.55},{"m":49,"d":54,"v":0.6},{"m":50.5,"d":57,"v":0.72},{"m":53,"d":57,"v":0.95},{"m":52,"d":60,"v":0.02},{"m":49.5,"d":36,"v":0.75},{"m":50,"d":35,"v":0.6},{"m":50,"d":38,"v":0.5},{"m":50.5,"d":37,"v":0.35},{"m":51.5,"d":40,"v":0.55},{"m":52,"d":39,"v":0.45},{"m":52,"d":41,"v":0.5},{"m":52.5,"d":40,"v":0.4},{"m":53,"d":43,"v":0.5},{"m":53.5,"d":42,"v":0.4},{"m":53.5,"d":44,"v":0.5},{"m":54,"d":43,"v":0.55},{"m":54,"d":45,"v":0.65},{"m":54.5,"d":44,"v":0.62},{"m":51.5,"d":31,"v":0.75},{"m":52.5,"d":33,"v":0.45},{"m":53,"d":34,"v":0.8},{"m":53.5,"d":35,"v":0.3},{"m":54,"d":36,"v":0.45},{"m":54,"d":32,"v":0.75},{"m":55.5,"d":35,"v":0.85},{"m":56,"d":34,"v":0.72},{"m":55.5,"d":38,"v":0.35},{"m":56,"d":39,"v":0.5},{"m":56.5,"d":40,"v":0.55},{"m":58,"d":33,"v":0.3},{"m":58.5,"d":34,"v":0.45},{"m":59,"d":35,"v":0.6},{"m":60,"d":33,"v":0.05},{"m":60.5,"d":32,"v":0.05},{"m":61,"d":36,"v":0.6},{"m":61.5,"d":35,"v":0.6},{"m":62,"d":34,"v":0.7},{"m":60,"d":38,"v":0.72},{"m":61.5,"d":41,"v":0.05},{"m":58.5,"d":41,"v":0.87},{"m":59,"d":42,"v":0.87},{"m":57.5,"d":43,"v":0.75},{"m":58,"d":44,"v":0.85},{"m":60,"d":44,"v":0.87},{"m":59,"d":46,"v":0.08},{"m":61,"d":46,"v":0.85},{"m":63.5,"d":45,"v":0.7},{"m":64.5,"d":47,"v":0.4},{"m":55.5,"d":47,"v":0.78},{"m":56,"d":46,"v":0.78},{"m":57,"d":50,"v":0.1},{"m":56.5,"d":51,"v":0.45},{"m":61,"d":50,"v":0.75},{"m":63,"d":50,"v":0.9},{"m":62,"d":52,"v":0.45},{"m":64.5,"d":51,"v":0.65},{"m":63,"d":54,"v":0.4},{"m":58.5,"d":55,"v":0.65},{"m":59,"d":54,"v":0.65},{"m":60,"d":56,"v":0.35},{"m":59.5,"d":57,"v":0.5},{"m":61,"d":58,"v":0.15},{"m":60,"d":60,"v":0.75},{"m":60.5,"d":59,"v":0.75},{"m":54,"d":64,"v":0.7},{"m":55,"d":66,"v":0.4},{"m":56,"d":68,"v":0.15},{"m":57.5,"d":65,"v":0.75},{"m":57,"d":66,"v":0.8},{"m":62,"d":64,"v":0.93},{"m":46.5,"d":71,"v":0.65},{"m":45,"d":69,"v":0.88},{"m":45.5,"d":70,"v":0.88},{"m":45,"d":71,"v":0.88},{"m":47,"d":74,"v":0.9},{"m":48.5,"d":75,"v":0.8},{"m":49.5,"d":77,"v":0.65},{"m":49.5,"d":81,"v":0.65},{"m":45.5,"d":81,"v":0.88},{"m":63.5,"d":83,"v":0.4},{"m":29,"d":48,"v":0.15},{"m":27.5,"d":51,"v":0.1},{"m":28,"d":52,"v":0.85},{"m":29,"d":53,"v":0.9},{"m":29.5,"d":53,"v":0.88},{"m":28.5,"d":54,"v":0.8},{"m":28,"d":55,"v":0.85},{"m":27,"d":53,"v":0.88},{"m":33.5,"d":67,"v":0.05},{"m":36,"d":62,"v":0.45},{"m":37,"d":66,"v":0.85},{"m":36,"d":66,"v":0.8},{"m":38,"d":68,"v":0.75},{"m":37,"d":70,"v":0.72},{"m":39,"d":70,"v":0.7},{"m":38,"d":72,"v":0.8},{"m":39.5,"d":73,"v":0.75},{"m":38.5,"d":75,"v":0.75},{"m":39,"d":76,"v":0.8},{"m":40.5,"d":71,"v":0.03},{"m":42,"d":74,"v":0.55},{"m":41.5,"d":75,"v":0.85},{"m":41.5,"d":80,"v":0.85},{"m":42,"d":80,"v":0.75},{"m":39.5,"d":79,"v":0.03},{"m":46,"d":88,"v":0.6},{"m":45,"d":86,"v":0.75},{"m":45.5,"d":90,"v":0.8},{"m":47.5,"d":85,"v":0.8},{"m":58,"d":94,"v":0.7},{"m":53.5,"d":97,"v":0.93},{"m":62,"d":102,"v":0.45},{"m":62.5,"d":103,"v":0.55},{"m":61.5,"d":103,"v":0.85},{"m":62,"d":104,"v":0.8},{"m":53.5,"d":103,"v":0.65},{"m":58.5,"d":108,"v":0.3},{"m":59,"d":109,"v":0.2},{"m":64.5,"d":107,"v":0.45},
{"m":73.5,"d":41,"v":0.03},{"m":67,"d":46,"v":0.72},{"m":67.5,"d":45,"v":0.72},{"m":64.5,"d":47,"v":0.35},{"m":65.5,"d":49,"v":0.3},{"m":63.5,"d":45,"v":0.62},{"m":64.5,"d":51,"v":0.6},{"m":63.5,"d":54,"v":0.4},{"m":71,"d":35,"v":0.87},{"m":86,"d":38,"v":0.9},{"m":92,"d":38,"v":0.85},{"m":90.5,"d":30,"v":0.9},{"m":74.5,"d":31,"v":0.8},{"m":96,"d":33,"v":0.05},{"m":96.5,"d":34,"v":0.05},{"m":97,"d":35,"v":0.05},{"m":94.5,"d":35,"v":0.1},{"m":95,"d":36,"v":0.6},{"m":95.5,"d":37,"v":0.62},{"m":96,"d":38,"v":0.7},{"m":94.5,"d":37,"v":0.85},{"m":95,"d":38,"v":0.8},{"m":94.5,"d":39,"v":0.9},{"m":99,"d":38,"v":0.03},{"m":100,"d":40,"v":0.05},{"m":101,"d":42,"v":0.03},{"m":101.5,"d":39,"v":0.5},{"m":97.5,"d":40,"v":0.62},{"m":98.5,"d":42,"v":0.6},{"m":99,"d":43,"v":0.3},{"m":99,"d":44,"v":0.05},{"m":99.5,"d":45,"v":0.6},{"m":97.5,"d":46,"v":0.48},{"m":98,"d":45,"v":0.48},{"m":89,"d":47,"v":0.05},{"m":89.5,"d":48,"v":0.05},{"m":90.5,"d":44,"v":0.05},{"m":91,"d":45,"v":0.1},{"m":90,"d":45,"v":0.62},{"m":90.5,"d":46,"v":0.62},{"m":91,"d":47,"v":0.72},{"m":93,"d":49,"v":0.05},{"m":92.5,"d":50,"v":0.65},{"m":91,"d":52,"v":0.03},{"m":92.5,"d":54,"v":0.03},{"m":94,"d":51,"v":0.1},{"m":95,"d":51,"v":0.45},{"m":93.5,"d":52,"v":0.75},{"m":94,"d":53,"v":0.15},{"m":95,"d":53,"v":0.03},{"m":94.5,"d":54,"v":0.65},{"m":93,"d":56,"v":0.03},{"m":88,"d":58,"v":0.03},{"m":89,"d":60,"v":0.03},{"m":90,"d":62,"v":0.03},{"m":98,"d":62,"v":0.8},{"m":99,"d":63,"v":0.8},{"m":99.5,"d":64,"v":0.45},{"m":100.5,"d":66,"v":0.05},{"m":101.5,"d":65,"v":0.45},{"m":73,"d":64,"v":0.4},{"m":70.5,"d":69,"v":0.45},{"m":71.5,"d":67,"v":0.85},{"m":77.5,"d":68,"v":0.72},{"m":78,"d":67,"v":0.48},{"m":78,"d":69,"v":0.4},{"m":78.5,"d":68,"v":0.4},{"m":78.5,"d":70,"v":0.45},{"m":79,"d":69,"v":0.45},{"m":76.5,"d":71,"v":0.75},{"m":77,"d":72,"v":0.62},{"m":77.5,"d":73,"v":0.55},{"m":78,"d":74,"v":0.58},{"m":74,"d":75,"v":0.75},{"m":74.5,"d":76,"v":0.5},{"m":75,"d":77,"v":0.5},{"m":75.5,"d":78,"v":0.58},{"m":71,"d":81,"v":0.7},{"m":71.5,"d":80,"v":0.85},{"m":72,"d":79,"v":0.8},{"m":72.5,"d":80,"v":0.55},{"m":73,"d":81,"v":0.6},{"m":73.5,"d":82,"v":0.62},{"m":72.5,"d":82,"v":0.75},{"m":73,"d":83,"v":0.78},{"m":68,"d":86,"v":0.85},{"m":68.5,"d":88,"v":0.05},{"m":69,"d":89,"v":0.05},{"m":66.5,"d":90,"v":0.72},{"m":67,"d":91,"v":0.6},{"m":67.5,"d":92,"v":0.55},{"m":68,"d":93,"v":0.6},{"m":68.5,"d":94,"v":0.65},{"m":80.5,"d":74,"v":0.45},{"m":81,"d":73,"v":0.45},{"m":81.5,"d":77,"v":0.33},{"m":82,"d":76,"v":0.33},{"m":82,"d":78,"v":0.3},{"m":82.5,"d":77,"v":0.3},{"m":82.5,"d":79,"v":0.3},{"m":83,"d":78,"v":0.33},{"m":86.5,"d":67,"v":0.05},{"m":87.5,"d":67,"v":0.45},{"m":87,"d":68,"v":0.3},{"m":87.5,"d":69,"v":0.05},{"m":79.5,"d":77,"v":0.5},{"m":80,"d":78,"v":0.45},{"m":81,"d":78,"v":0.45},{"m":80.5,"d":79,"v":0.5},{"m":80,"d":80,"v":0.45},{"m":81,"d":80,"v":0.55},{"m":77,"d":82,"v":0.55},{"m":77.5,"d":83,"v":0.45},{"m":78.5,"d":83,"v":0.45},{"m":78,"d":84,"v":0.5},{"m":77.5,"d":86,"v":0.45},{"m":78.5,"d":85,"v":0.48},{"m":84.5,"d":86,"v":0.45},{"m":85,"d":87,"v":0.65},{"m":86,"d":89,"v":0.72},{"m":86.5,"d":90,"v":0.4},{"m":76,"d":87,"v":0.45},{"m":75,"d":88,"v":0.7},{"m":75,"d":86,"v":0.5},{"m":74.5,"d":87,"v":0.72},{"m":76.5,"d":89,"v":0.6},{"m":76,"d":90,"v":0.7},{"m":77.5,"d":92,"v":0.52},{"m":78,"d":91,"v":0.45},{"m":78,"d":93,"v":0.52},{"m":78.5,"d":92,"v":0.42},{"m":78.5,"d":94,"v":0.55},{"m":79,"d":93,"v":0.42},{"m":79.5,"d":96,"v":0.55},{"m":80,"d":95,"v":0.45},{"m":80,"d":97,"v":0.75},{"m":80.5,"d":96,"v":0.8},{"m":81,"d":99,"v":0.78},{"m":82,"d":99,"v":0.45},{"m":81.5,"d":100,"v":0.58},{"m":87,"d":93,"v":0.45},{"m":88.5,"d":95,"v":0.7},{"m":90,"d":97,"v":0.45},{"m":90.5,"d":98,"v":0.55},{"m":91,"d":99,"v":0.5},{"m":91,"d":101,"v":0.5},{"m":91.5,"d":97,"v":0.35},{"m":92,"d":96,"v":0.3},{"m":92,"d":98,"v":0.35},{"m":92.5,"d":97,"v":0.3},{"m":93,"d":79,"v":0.05},{"m":93.5,"d":80,"v":0.25},{"m":94,"d":79,"v":0.45},{"m":94,"d":81,"v":0.05},{"m":93,"d":78,"v":0.75},{"m":97,"d":87,"v":0.1},{"m":97.5,"d":88,"v":0.2},{"m":98,"d":87,"v":0.45},{"m":98,"d":89,"v":0.05},{"m":99,"d":91,"v":0.1},{"m":100,"d":93,"v":0.75},{"m":99,"d":85,"v":0.45},{"m":100,"d":83,"v":0.4},{"m":96.5,"d":82,"v":0.8},{"m":96,"d":75,"v":0.45},{"m":95,"d":77,"v":0.45},{"m":103,"d":71,"v":0.45},{"m":104,"d":73,"v":0.6},{"m":104.5,"d":74,"v":0.08},{"m":105.5,"d":72,"v":0.45},{"m":106.5,"d":77,"v":0.5},{"m":107,"d":79,"v":0.45},{"m":108,"d":81,"v":0.4},{"m":110,"d":85,"v":0.03},{"m":104.5,"d":54,"v":0.45},{"m":104,"d":55,"v":0.65},{"m":105,"d":56,"v":0.35},{"m":104.5,"d":57,"v":0.1},{"m":106,"d":58,"v":0.05},{"m":111.5,"d":59,"v":0.45},{"m":108,"d":61,"v":0.45},{"m":107.5,"d":62,"v":0.55},{"m":110,"d":61,"v":0.5},{"m":108.5,"d":64,"v":0.05},{"m":109.5,"d":64,"v":0.3},{"m":109,"d":65,"v":0.05},{"m":108.5,"d":66,"v":0.25},{"m":108,"d":67,"v":0.45},{"m":107.5,"d":68,"v":0.45},{"m":110.5,"d":66,"v":0.05},{"m":110.5,"d":68,"v":0.03},{"m":106,"d":71,"v":0.45},{"m":106.5,"d":70,"v":0.45},{"m":107,"d":69,"v":0.45},{"m":112,"d":69,"v":0.5},{"m":113,"d":71,"v":0.42},{"m":111.5,"d":70,"v":0.7},{"m":112.5,"d":72,"v":0.6},{"m":111,"d":41,"v":0.6},{"m":110,"d":40,"v":0.7},{"m":108,"d":37,"v":0.55},{"m":104.5,"d":32,"v":0.45},{"m":106,"d":31,"v":0.65},{"m":111,"d":45,"v":0.48},{"m":113.5,"d":47,"v":0.72},{"m":114.5,"d":48,"v":0.65},{"m":115,"d":53,"v":0.45},{"m":108,"d":51,"v":0.48},{"m":113,"d":53,"v":0.8},{"m":115,"d":57,"v":0.65},{"m":117,"d":61,"v":0.65},{"m":117.5,"d":32,"v":0.4},{"m":108,"d":103,"v":0.5},{"m":117.5,"d":101,"v":0.03},{"m":113,"d":110,"v":0.05},{"m":112,"d":112,"v":0.05},{"m":113.5,"d":115,"v":0.45},{"m":77.5,"d":113,"v":0.45},{"m":78.5,"d":111,"v":0.45},{"m":79,"d":114,"v":0.7},{"m":76.5,"d":108,"v":0.7},{"m":77,"d":109,"v":0.5},{"m":85,"d":107,"v":0.65},{"m":85.5,"d":106,"v":0.42},{"m":86,"d":107,"v":0.55},{"m":86.5,"d":108,"v":0.6},{"m":85.5,"d":108,"v":0.75},{"m":86,"d":109,"v":0.75},{"m":87.5,"d":108,"v":0.45},{"m":88,"d":107,"v":0.45},{"m":88.5,"d":106,"v":0.45},{"m":89.5,"d":104,"v":0.42},{"m":88.5,"d":103,"v":0.55},{"m":87.5,"d":102,"v":0.45},{"m":90.5,"d":108,"v":0.5},{"m":91.5,"d":110,"v":0.6},{"m":65,"d":108,"v":0.3},{"m":65.5,"d":109,"v":0.05},{"m":66.5,"d":109,"v":0.45},{"m":66,"d":110,"v":0.4},{"m":66.5,"d":111,"v":0.6},{"m":64.5,"d":107,"v":0.5},{"m":64,"d":108,"v":0.75},{"m":75,"d":106,"v":0.45},{"m":75.5,"d":107,"v":0.75},{"m":70.5,"d":93,"v":0.03},{"m":71.5,"d":95,"v":0.03},{"m":72.5,"d":97,"v":0.03},{"m":71.5,"d":97,"v":0.45},{"m":70.5,"d":97,"v":0.45},{"m":70.5,"d":99,"v":0.48},{"m":71.5,"d":99,"v":0.58},{"m":69.5,"d":95,"v":0.6},
{"m":123.5,"d":36,"v":0.45},{"m":134.5,"d":34,"v":0.05},{"m":135.5,"d":32,"v":0.05},{"m":136.5,"d":30,"v":0.05},{"m":140.5,"d":38,"v":0.05},{"m":139.5,"d":40,"v":0.05},{"m":138.5,"d":42,"v":0.1},{"m":132.5,"d":54,"v":0.45},{"m":131,"d":58,"v":0.65},{"m":127.5,"d":64,"v":0.2},{"m":127,"d":65,"v":0.45},{"m":126,"d":67,"v":0.03},{"m":144.5,"d":30,"v":0.03},{"m":149.5,"d":36,"v":0.03},{"m":149,"d":39,"v":0.05},{"m":149,"d":43,"v":0.45},{"m":141.5,"d":42,"v":0.72},{"m":151.5,"d":32,"v":0.45},{"m":153,"d":32,"v":0.05},{"m":155,"d":32,"v":0.45},{"m":157,"d":32,"v":0.45},{"m":155.5,"d":30,"v":0.6},{"m":157.5,"d":30,"v":0.05},{"m":153,"d":36,"v":0.65},{"m":155,"d":36,"v":0.4},{"m":154,"d":38,"v":0.3},{"m":151.5,"d":39,"v":0.45},{"m":151.5,"d":38,"v":0.7},{"m":155.5,"d":38,"v":0.25},{"m":154.5,"d":40,"v":0.3},{"m":152.5,"d":40,"v":0.45},{"m":152,"d":41,"v":0.5},{"m":144.5,"d":46,"v":0.3},{"m":145,"d":47,"v":0.45},{"m":143.5,"d":48,"v":0.3},{"m":144,"d":49,"v":0.45},{"m":142.5,"d":50,"v":0.3},{"m":143,"d":51,"v":0.45},{"m":141,"d":53,"v":0.45},{"m":140.5,"d":55,"v":0.3},{"m":141,"d":55,"v":0.5},{"m":139.5,"d":56,"v":0.45},{"m":140.5,"d":56,"v":0.5},{"m":136.5,"d":62,"v":0.45},{"m":138,"d":65,"v":0.45},{"m":132,"d":73,"v":0.1},{"m":124,"d":72,"v":0.4},{"m":123.5,"d":73,"v":0.1},{"m":122.5,"d":74,"v":0.05},{"m":121.5,"d":70,"v":0.62},{"m":121,"d":77,"v":0.4},{"m":120,"d":79,"v":0.45},{"m":130.5,"d":76,"v":0.05},{"m":129,"d":77,"v":0.8},{"m":128,"d":79,"v":0.05},{"m":128,"d":81,"v":0.05},{"m":127,"d":83,"v":0.05},{"m":125,"d":85,"v":0.05},{"m":130.5,"d":80,"v":0.5},{"m":132.5,"d":76,"v":0.78},{"m":133,"d":75,"v":0.85},{"m":119.5,"d":98,"v":0.1},{"m":118.5,"d":98,"v":0.1},{"m":122.5,"d":96,"v":0.4},{"m":121.5,"d":99,"v":0.45},{"m":119.5,"d":102,"v":0.7},{"m":120.5,"d":104,"v":0.4},{"m":121.5,"d":102,"v":0.3},{"m":122.5,"d":104,"v":0.45},{"m":124,"d":103,"v":0.5},{"m":125,"d":102,"v":0.45},{"m":126.5,"d":100,"v":0.45},{"m":126.5,"d":88,"v":0.4},{"m":127.5,"d":90,"v":0.7},{"m":125.5,"d":92,"v":0.75},{"m":126.5,"d":92,"v":0.25},{"m":127.5,"d":94,"v":0.25},{"m":128.5,"d":92,"v":0.7},{"m":130,"d":92,"v":0.1},{"m":128.5,"d":94,"v":0.65},{"m":128.5,"d":87,"v":0.1},{"m":130,"d":89,"v":0.45},{"m":132.5,"d":87,"v":0.05},{"m":132,"d":89,"v":0.5},{"m":131,"d":87,"v":0.3},{"m":130.5,"d":84,"v":0.6},{"m":129,"d":83,"v":0.8},{"m":128,"d":85,"v":0.7},{"m":129.5,"d":82,"v":0.45},{"m":132.5,"d":80,"v":0.05},{"m":133.5,"d":82,"v":0.1},{"m":134.5,"d":79,"v":0.3},{"m":139.5,"d":74,"v":0.7},{"m":138.5,"d":77,"v":0.75},{"m":141,"d":71,"v":0.45},{"m":139,"d":67,"v":0.65},
{"m":157.5,"d":56,"v":1},{"m":150,"d":59,"v":1},{"m":159,"d":59,"v":1},{"m":162.5,"d":52,"v":1},{"m":161,"d":49,"v":1},{"m":142.5,"d":74,"v":1},{"m":141,"d":77,"v":1},{"m":142,"d":93,"v":1},{"m":139,"d":93,"v":1},{"m":140.5,"d":96,"v":1},{"m":136.5,"d":98,"v":1},{"m":135.5,"d":100,"v":1},{"m":138,"d":101,"v":1},{"m":137,"d":103,"v":1},{"m":129.5,"d":112,"v":1},{"m":128,"d":115,"v":1},{"m":131,"d":115,"v":1},{"m":171.5,"d":35,"v":1},{"m":170,"d":32,"v":1},{"m":161.5,"d":54,"v":0.82},{"m":160.5,"d":56,"v":0.82},{"m":159,"d":53,"v":0.85},{"m":165.5,"d":46,"v":0.85},{"m":163.5,"d":33,"v":0.8},{"m":135.5,"d":93,"v":0.85},{"m":139.5,"d":100,"v":0.45},{"m":97.5,"d":177,"v":1},{"m":99,"d":180,"v":1},{"m":105.5,"d":161,"v":1},{"m":107,"d":164,"v":1},{"m":105,"d":162,"v":0.88},{"m":106.5,"d":165,"v":0.85},{"m":100.5,"d":159,"v":0.85},{"m":101.5,"d":157,"v":0.85},{"m":96,"d":168,"v":0.85},{"m":91.5,"d":177,"v":0.85},{"m":101,"d":176,"v":0.75},{"m":99.5,"d":173,"v":0.75},{"m":98.5,"d":175,"v":0.45},{"m":100,"d":178,"v":0.45},{"m":101.5,"d":177,"v":0.45},{"m":103,"d":166,"v":0.65},{"m":104.5,"d":169,"v":0.65},{"m":95.5,"d":187,"v":0.85},{"m":94.5,"d":187,"v":0.55},{"m":94,"d":186,"v":0.55},{"m":93.5,"d":183,"v":0.8},{"m":70.5,"d":141,"v":0.8},{"m":71,"d":142,"v":0.25},{"m":72,"d":143,"v":0.35},{"m":72.5,"d":145,"v":0.45},{"m":73.5,"d":147,"v":0.48},{"m":74.5,"d":149,"v":0.47},{"m":75,"d":140,"v":0.45},{"m":76,"d":142,"v":0.8},{"m":77,"d":144,"v":0.8},{"m":82,"d":142,"v":0.35},{"m":82.5,"d":143,"v":0.85},{"m":82,"d":144,"v":0.7},{"m":85,"d":148,"v":0.65},{"m":86,"d":148,"v":0.6},{"m":79,"d":150,"v":0.7},{"m":81.5,"d":157,"v":0.6},{"m":81,"d":158,"v":0.4},{"m":80.5,"d":157,"v":0.8},{"m":79.5,"d":155,"v":0.85},{"m":82.5,"d":165,"v":0.88},{"m":84,"d":168,"v":0.8},{"m":97,"d":144,"v":0.1},{"m":95.5,"d":145,"v":0.1},{"m":94.5,"d":147,"v":0.08},{"m":90,"d":156,"v":0.05},{"m":89,"d":160,"v":0.2},{"m":91,"d":160,"v":0.2},{"m":86.5,"d":163,"v":0.45},{"m":85.5,"d":165,"v":0.1},{"m":90,"d":162,"v":0.8},{"m":92,"d":161,"v":0.75},{"m":91,"d":164,"v":0.35},{"m":89,"d":168,"v":0.45},{"m":88,"d":166,"v":0.58},{"m":87.5,"d":171,"v":0.2},{"m":87,"d":169,"v":0.85},{"m":88.5,"d":173,"v":0.1},{"m":89,"d":172,"v":0.78},{"m":90,"d":174,"v":0.45},{"m":92,"d":166,"v":0.35},{"m":93,"d":165,"v":0.05},{"m":93.5,"d":166,"v":0.03},{"m":90,"d":170,"v":0.5},{"m":97.5,"d":151,"v":0.7},{"m":97.5,"d":150,"v":0.45},{"m":97,"d":152,"v":0.75},{"m":98.5,"d":148,"v":0.3},{"m":99,"d":147,"v":0.25},{"m":101.5,"d":143,"v":0.3},{"m":102.5,"d":141,"v":0.45},
{"m":72.5,"d":10,"v":0.05},{"m":86.5,"d":8,"v":0.6},{"m":89,"d":2,"v":0.5},{"m":89,"d":4,"v":0.55},{"m":91.5,"d":3,"v":0.65},{"m":84.5,"d":4,"v":0.8},{"m":73.5,"d":12,"v":0.6},{"m":71,"d":9,"v":0.62},{"m":76,"d":2,"v":0.8},{"m":82,"d":16,"v":0.6},{"m":83,"d":14,"v":0.65},{"m":83.5,"d":13,"v":0.7},{"m":80,"d":19,"v":0.7},{"m":79.5,"d":21,"v":0.55},{"m":76,"d":29,"v":0.62},{"m":66.5,"d":27,"v":0.03},{"m":68,"d":29,"v":0.7},{"m":98,"d":15,"v":0.6},{"m":113,"d":15,"v":0.45},{"m":106,"d":23,"v":0.03},{"m":107,"d":25,"v":0.03},{"m":108,"d":27,"v":0.03},{"m":104,"d":27,"v":0.6},{"m":105,"d":29,"v":0.62},{"m":127,"d":11,"v":0.03},{"m":126,"d":13,"v":0.03},{"m":128,"d":13,"v":0.03},{"m":125,"d":15,"v":0.03},{"m":127,"d":15,"v":0.03},{"m":126,"d":17,"v":0.03},{"m":135.5,"d":10,"v":0.62},{"m":134.5,"d":12,"v":0.62},{"m":138,"d":5,"v":0.6},{"m":137,"d":12,"v":0.85},{"m":148.5,"d":8,"v":0.6},{"m":143.5,"d":8,"v":0.75},{"m":146.5,"d":12,"v":0.7},{"m":144,"d":17,"v":0.03},{"m":131,"d":19,"v":0.45},{"m":130,"d":21,"v":0.3},{"m":132,"d":21,"v":0.05},{"m":129,"d":23,"v":0.45},{"m":131,"d":23,"v":0.05},{"m":133,"d":23,"v":0.45},{"m":130,"d":25,"v":0.05},{"m":132,"d":25,"v":0.4},{"m":131,"d":27,"v":0.45},{"m":119.5,"d":28,"v":0.45},{"m":156.5,"d":6,"v":0.03},{"m":155.5,"d":8,"v":0.45},{"m":154,"d":11,"v":0.45},{"m":153,"d":13,"v":0.4},{"m":164.5,"d":12,"v":0.2},{"m":161,"d":15,"v":0.03},{"m":150.5,"d":17,"v":0.45},{"m":150,"d":19,"v":0.03},{"m":158,"d":19,"v":0.05},{"m":157,"d":21,"v":0.03},{"m":149,"d":21,"v":0.45},{"m":148,"d":23,"v":0.08},{"m":144.5,"d":30,"v":0.08},{"m":159,"d":2,"v":0.45},
{"m":0.5,"d":1,"v":1},{"m":1.5,"d":1,"v":1},{"m":2.5,"d":1,"v":1},{"m":3.5,"d":1,"v":1},{"m":4.5,"d":1,"v":1},{"m":5.5,"d":1,"v":1},{"m":6.5,"d":1,"v":1},{"m":7.5,"d":1,"v":1},{"m":8.5,"d":1,"v":1},{"m":9.5,"d":1,"v":1},{"m":10.5,"d":1,"v":1},{"m":11.5,"d":1,"v":1},{"m":12.5,"d":1,"v":1},{"m":13.5,"d":1,"v":1},{"m":14.5,"d":1,"v":1},{"m":15.5,"d":1,"v":1},{"m":16.5,"d":1,"v":1},{"m":17.5,"d":1,"v":1},{"m":18.5,"d":1,"v":1},{"m":19.5,"d":1,"v":1},{"m":20.5,"d":1,"v":1},{"m":21.5,"d":1,"v":1},{"m":22.5,"d":1,"v":1},{"m":23.5,"d":1,"v":1},{"m":24.5,"d":1,"v":1},{"m":25.5,"d":1,"v":1},{"m":26.5,"d":1,"v":1},{"m":27.5,"d":1,"v":1},{"m":28.5,"d":1,"v":1},{"m":29.5,"d":1,"v":1},{"m":30.5,"d":1,"v":1},{"m":31.5,"d":1,"v":1},{"m":32.5,"d":1,"v":1},{"m":33.5,"d":1,"v":1},{"m":34.5,"d":1,"v":1},{"m":35.5,"d":1,"v":1},{"m":36.5,"d":1,"v":1},{"m":37.5,"d":1,"v":1},{"m":38.5,"d":1,"v":1},{"m":39.5,"d":1,"v":1},{"m":40.5,"d":1,"v":1},{"m":41.5,"d":1,"v":1},{"m":42.5,"d":1,"v":1},{"m":43.5,"d":1,"v":1},{"m":44.5,"d":1,"v":1},{"m":45.5,"d":1,"v":1},{"m":46.5,"d":1,"v":1},{"m":47.5,"d":1,"v":1},{"m":48.5,"d":1,"v":1},{"m":49.5,"d":1,"v":1},{"m":50.5,"d":1,"v":1},{"m":51.5,"d":1,"v":1},{"m":52.5,"d":1,"v":1},{"m":53.5,"d":1,"v":1},{"m":54.5,"d":1,"v":1},{"m":55.5,"d":1,"v":1},{"m":56.5,"d":1,"v":1},{"m":57.5,"d":1,"v":1},{"m":58.5,"d":1,"v":1},{"m":59.5,"d":1,"v":1},{"m":60.5,"d":1,"v":1},{"m":61.5,"d":1,"v":1},{"m":62.5,"d":1,"v":1},{"m":63.5,"d":1,"v":1},{"m":64.5,"d":1,"v":1},{"m":65.5,"d":1,"v":1},{"m":66.5,"d":1,"v":1},{"m":67.5,"d":1,"v":1},{"m":68.5,"d":1,"v":1},{"m":69.5,"d":1,"v":1},{"m":70.5,"d":1,"v":1},{"m":71.5,"d":1,"v":1},{"m":72.5,"d":1,"v":1},{"m":73.5,"d":1,"v":1},{"m":74.5,"d":1,"v":1},{"m":75.5,"d":1,"v":0.88},{"m":76.5,"d":1,"v":0.85},{"m":77.5,"d":1,"v":1},{"m":78.5,"d":1,"v":1},{"m":79.5,"d":1,"v":1},{"m":80.5,"d":1,"v":1},{"m":81.5,"d":1,"v":1},{"m":82.5,"d":1,"v":1},{"m":83.5,"d":1,"v":1},{"m":84.5,"d":1,"v":1},{"m":85.5,"d":1,"v":1},{"m":86.5,"d":1,"v":1},{"m":87.5,"d":1,"v":1},{"m":88.5,"d":1,"v":1},{"m":89.5,"d":1,"v":0.88},{"m":90.5,"d":1,"v":0.8},{"m":91.5,"d":1,"v":1},{"m":92.5,"d":1,"v":1},{"m":93.5,"d":1,"v":1},{"m":94.5,"d":1,"v":1},{"m":95.5,"d":1,"v":1},{"m":96.5,"d":1,"v":1},{"m":97.5,"d":1,"v":1},{"m":98.5,"d":1,"v":1},{"m":99.5,"d":1,"v":1},{"m":100.5,"d":1,"v":1},{"m":101.5,"d":1,"v":1},{"m":102.5,"d":1,"v":1},{"m":103.5,"d":1,"v":1},{"m":104.5,"d":1,"v":1},{"m":105.5,"d":1,"v":1},{"m":106.5,"d":1,"v":1},{"m":107.5,"d":1,"v":1},{"m":108.5,"d":1,"v":1},{"m":109.5,"d":1,"v":1},{"m":110.5,"d":1,"v":1},{"m":111.5,"d":1,"v":1},{"m":112.5,"d":1,"v":1},{"m":113.5,"d":1,"v":1},{"m":114.5,"d":1,"v":1},{"m":115.5,"d":1,"v":1},{"m":116.5,"d":1,"v":1},{"m":117.5,"d":1,"v":1},{"m":118.5,"d":1,"v":1},{"m":119.5,"d":1,"v":1},{"m":120.5,"d":1,"v":1},{"m":121.5,"d":1,"v":1},{"m":122.5,"d":1,"v":1},{"m":123.5,"d":1,"v":1},{"m":124.5,"d":1,"v":1},{"m":125.5,"d":1,"v":1},{"m":126.5,"d":1,"v":1},{"m":127.5,"d":1,"v":1},{"m":128.5,"d":1,"v":1},{"m":129.5,"d":1,"v":1},{"m":130.5,"d":1,"v":1},{"m":131.5,"d":1,"v":1},{"m":132.5,"d":1,"v":1},{"m":133.5,"d":1,"v":1},{"m":134.5,"d":1,"v":1},{"m":135.5,"d":1,"v":1},{"m":136.5,"d":1,"v":1},{"m":137.5,"d":1,"v":1},{"m":138.5,"d":1,"v":1},{"m":139.5,"d":1,"v":1},{"m":140.5,"d":1,"v":1},{"m":141.5,"d":1,"v":1},{"m":142.5,"d":1,"v":1},{"m":143.5,"d":1,"v":1},{"m":144.5,"d":1,"v":1},{"m":145.5,"d":1,"v":1},{"m":146.5,"d":1,"v":1},{"m":147.5,"d":1,"v":1},{"m":148.5,"d":1,"v":1},{"m":149.5,"d":1,"v":1},{"m":150.5,"d":1,"v":1},{"m":151.5,"d":1,"v":1},{"m":152.5,"d":1,"v":1},{"m":153.5,"d":1,"v":1},{"m":154.5,"d":1,"v":1},{"m":155.5,"d":1,"v":1},{"m":156.5,"d":1,"v":1},{"m":157.5,"d":1,"v":1},{"m":158.5,"d":1,"v":1},{"m":159.5,"d":1,"v":0.45},{"m":160.5,"d":1,"v":1},{"m":161.5,"d":1,"v":1},{"m":162.5,"d":1,"v":1},{"m":163.5,"d":1,"v":1},{"m":164.5,"d":1,"v":1},{"m":165.5,"d":1,"v":1},{"m":166.5,"d":1,"v":1},{"m":167.5,"d":1,"v":1},{"m":168.5,"d":1,"v":1},{"m":169.5,"d":1,"v":1},{"m":170.5,"d":1,"v":1},{"m":171.5,"d":1,"v":1},{"m":172.5,"d":1,"v":1},{"m":173.5,"d":1,"v":1},{"m":174.5,"d":1,"v":1},{"m":175.5,"d":1,"v":1},{"m":176.5,"d":1,"v":0.3},{"m":177.5,"d":1,"v":0.62},{"m":178.5,"d":1,"v":0.4},{"m":179.5,"d":1,"v":0.2},{"m":180.5,"d":1,"v":0.62},{"m":181.5,"d":1,"v":0.8},{"m":182.5,"d":1,"v":0.72},{"m":183.5,"d":1,"v":1},{"m":184.5,"d":1,"v":1},{"m":185.5,"d":1,"v":1},{"m":186.5,"d":1,"v":1},{"m":187.5,"d":1,"v":1},{"m":188.5,"d":1,"v":1},{"m":189.5,"d":1,"v":1}
]},
"layer":[
{"data":{"values":[{"m":0,"a":1,"b":1},{"m":95,"a":1,"b":191},{"m":190,"a":1,"b":1}]},"mark":{"type":"area","color":"#ff0000","interpolate":"linear"},"encoding":{"x":{"field":"m","type":"quantitative","axis":null,"scale":{"domain":[-19.08,200.56],"nice":false,"zero":false}},"y":{"field":"a","type":"quantitative","axis":null,"scale":{"domain":[-113.7,211.4],"reverse":true,"nice":false,"zero":false}},"y2":{"field":"b"}}},
{"data":{"values":[{"m":89,"a":179,"b":179},{"m":95,"a":167,"b":191},{"m":178,"a":1,"b":25},{"m":190,"a":1,"b":1}]},"mark":{"type":"area","color":"#f5f2a4","interpolate":"linear"},"encoding":{"x":{"field":"m","type":"quantitative"},"y":{"field":"a","type":"quantitative"},"y2":{"field":"b"}}},
{"data":{"values":[{"m":182.8,"a":1,"b":1},{"m":186.3,"a":1,"b":8.1},{"m":189.9,"a":1,"b":1}]},"mark":{"type":"area","color":"#ff0000","interpolate":"linear"},"encoding":{"x":{"field":"m","type":"quantitative"},"y":{"field":"a","type":"quantitative"},"y2":{"field":"b"}}},
{"data":{"name":"plaid"},"mark":{"type":"rule","strokeWidth":13,"strokeCap":"butt"},"encoding":{"x":{"field":"m","type":"quantitative"},"y":{"field":"d","type":"quantitative"},"x2":{"field":"m2"},"y2":{"field":"d2"},"color":{"field":"v","type":"quantitative","legend":null,"scale":{"domain":[0,0.25,0.5,0.6,0.7,0.8,0.9,1],"range":["#ffffff","#f8f5ba","#f0ea47","#f4bc3b","#f8932d","#fc6a21","#ff3512","#ff0000"],"interpolate":"rgb"}}}},
{"data":{"name":"cross"},"mark":{"type":"rule","strokeWidth":13,"strokeCap":"butt","opacity":0.45},"encoding":{"x":{"field":"m","type":"quantitative"},"y":{"field":"d","type":"quantitative"},"x2":{"field":"m2"},"y2":{"field":"d2"},"color":{"field":"v","type":"quantitative","legend":null,"scale":{"domain":[0,0.25,0.5,0.6,0.7,0.8,0.9,1],"range":["#ffffff","#f8f5ba","#f0ea47","#f4bc3b","#f8932d","#fc6a21","#ff3512","#ff0000"],"interpolate":"rgb"}}}},
{"data":{"name":"runs"},"mark":{"type":"rule","strokeWidth":13,"strokeCap":"butt"},"encoding":{"x":{"field":"m","type":"quantitative"},"y":{"field":"d","type":"quantitative"},"x2":{"field":"m2"},"y2":{"field":"d2"},"color":{"field":"v","type":"quantitative","legend":null,"scale":{"domain":[0,0.25,0.5,0.6,0.7,0.8,0.9,1],"range":["#ffffff","#f8f5ba","#f0ea47","#f4bc3b","#f8932d","#fc6a21","#ff3512","#ff0000"],"interpolate":"rgb"}}}},
{"data":{"name":"cells"},"mark":{"type":"point","shape":"diamond","filled":true,"opacity":1,"size":345,"strokeWidth":0},"encoding":{"x":{"field":"m","type":"quantitative"},"y":{"field":"d","type":"quantitative"},"color":{"field":"v","type":"quantitative","legend":null,"scale":{"domain":[0,0.25,0.5,0.6,0.7,0.8,0.9,1],"range":["#ffffff","#f8f5ba","#f0ea47","#f4bc3b","#f8932d","#fc6a21","#ff3512","#ff0000"],"interpolate":"rgb"}}}},
{"data":{"values":[{"n":1,"o":1,"m":0,"d":1},{"n":1,"o":2,"m":21.1,"d":43.2},{"n":1,"o":3,"m":42.3,"d":1},{"n":1,"o":4,"m":0,"d":1},{"n":2,"o":1,"m":43.2,"d":1},{"n":2,"o":2,"m":67.8,"d":50.2},{"n":2,"o":3,"m":92.4,"d":1},{"n":2,"o":4,"m":43.2,"d":1},{"n":3,"o":1,"m":93.4,"d":1},{"n":3,"o":2,"m":126.1,"d":66.3},{"n":3,"o":3,"m":158.8,"d":1},{"n":3,"o":4,"m":93.4,"d":1},{"n":4,"o":1,"m":160.7,"d":1},{"n":4,"o":2,"m":167.8,"d":15.1},{"n":4,"o":3,"m":174.7,"d":1},{"n":4,"o":4,"m":160.7,"d":1},{"n":5,"o":1,"m":182.8,"d":1},{"n":5,"o":2,"m":186.3,"d":8.1},{"n":5,"o":3,"m":189.9,"d":1},{"n":5,"o":4,"m":182.8,"d":1}]},"mark":{"type":"line","color":"black","strokeWidth":4,"interpolate":"linear"},"encoding":{"x":{"field":"m","type":"quantitative","sort":null},"y":{"field":"d","type":"quantitative"},"detail":{"field":"n"},"order":{"field":"o"}}},
{"data":{"values":[{}]},"mark":{"type":"rect","color":"#a6cee3"},"encoding":{"x":{"datum":-0.05},"x2":{"datum":190.05},"y":{"datum":-46.73},"y2":{"datum":-31.41}}},
{"data":{"name":"snps"},"mark":{"type":"rule","strokeWidth":3.2},"encoding":{"x":{"field":"t","type":"quantitative"},"y":{"datum":-46.73},"y2":{"datum":-31.41},"color":{"condition":{"test":"datum.g==1","value":"#858a8f"},"value":"#e08abe"}}},
{"data":{"name":"snps"},"mark":{"type":"rule","strokeWidth":2.8,"color":"#008000"},"encoding":{"x":{"field":"t","type":"quantitative"},"x2":{"field":"b"},"y":{"datum":-31.41},"y2":{"datum":-1.09}}},
{"data":{"values":[{"x":-6.98,"y":-51.5,"s":"Start:100.562"}]},"mark":{"type":"text","align":"left","baseline":"alphabetic","font":"Liberation Sans","fontSize":43,"color":"black"},"encoding":{"x":{"field":"x","type":"quantitative"},"y":{"field":"y","type":"quantitative"},"text":{"field":"s"}}},
{"data":{"values":[{"x":95.05,"y":-51.5,"s":"chr15 Region:44.70 (kb)"}]},"mark":{"type":"text","align":"center","baseline":"alphabetic","font":"Liberation Sans","fontSize":43,"color":"black"},"encoding":{"x":{"field":"x","type":"quantitative"},"y":{"field":"y","type":"quantitative"},"text":{"field":"s"}}},
{"data":{"values":[{"x":199.6,"y":-51.5,"s":"End:100.607 (Mb)"}]},"mark":{"type":"text","align":"right","baseline":"alphabetic","font":"Liberation Sans","fontSize":43,"color":"black"},"encoding":{"x":{"field":"x","type":"quantitative"},"y":{"field":"y","type":"quantitative"},"text":{"field":"s"}}},
{"data":{"values":[{"x0":127.27,"x1":129.26,"v":0},{"x0":129.26,"x1":131.26,"v":0.03},{"x0":131.26,"x1":133.25,"v":0.06},{"x0":133.25,"x1":135.25,"v":0.09},{"x0":135.25,"x1":137.24,"v":0.125},{"x0":137.24,"x1":139.23,"v":0.156},{"x0":139.23,"x1":141.23,"v":0.188},{"x0":141.23,"x1":143.22,"v":0.219},{"x0":143.22,"x1":145.21,"v":0.25},{"x0":145.21,"x1":147.21,"v":0.281},{"x0":147.21,"x1":149.2,"v":0.313},{"x0":149.2,"x1":151.2,"v":0.344},{"x0":151.2,"x1":153.19,"v":0.375},{"x0":153.19,"x1":155.18,"v":0.406},{"x0":155.18,"x1":157.18,"v":0.438},{"x0":157.18,"x1":159.17,"v":0.469},{"x0":159.17,"x1":161.17,"v":0.5},{"x0":161.17,"x1":163.16,"v":0.531},{"x0":163.16,"x1":165.15,"v":0.563},{"x0":165.15,"x1":167.15,"v":0.594},{"x0":167.15,"x1":169.14,"v":0.625},{"x0":169.14,"x1":171.13,"v":0.656},{"x0":171.13,"x1":173.13,"v":0.688},{"x0":173.13,"x1":175.12,"v":0.719},{"x0":175.12,"x1":177.12,"v":0.75},{"x0":177.12,"x1":179.11,"v":0.781},{"x0":179.11,"x1":181.1,"v":0.813},{"x0":181.1,"x1":183.1,"v":0.844},{"x0":183.1,"x1":185.09,"v":0.875},{"x0":185.09,"x1":187.08,"v":0.906},{"x0":187.08,"x1":189.08,"v":0.938},{"x0":189.08,"x1":191.07,"v":0.969},{"x0":191.07,"x1":193.07,"v":1}]},"mark":{"type":"rect"},"encoding":{"x":{"field":"x0","type":"quantitative"},"x2":{"field":"x1"},"y":{"datum":182.5},"y2":{"datum":192.4},"color":{"field":"v","type":"quantitative","legend":null,"scale":{"domain":[0,0.25,0.5,0.6,0.7,0.8,0.9,1],"range":["#ffffff","#f8f5ba","#f0ea47","#f4bc3b","#f8932d","#fc6a21","#ff3512","#ff0000"],"interpolate":"rgb"}}}},
{"data":{"values":[{}]},"mark":{"type":"rect","fill":null,"stroke":"black","strokeWidth":3.5},"encoding":{"x":{"datum":127.27},"x2":{"datum":193.07},"y":{"datum":182.5},"y2":{"datum":192.4}}},
{"data":{"values":[{"x":146.1,"y":173,"s":"D' Color Key"}]},"mark":{"type":"text","align":"left","baseline":"alphabetic","font":"Liberation Sans","fontSize":86,"color":"black"},"encoding":{"x":{"field":"x","type":"quantitative"},"y":{"field":"y","type":"quantitative"},"text":{"field":"s"}}},
{"data":{"values":[{"x":127.4,"y":201.8,"s":"0.0"}]},"mark":{"type":"text","align":"center","baseline":"alphabetic","font":"Liberation Sans","fontSize":86,"color":"black"},"encoding":{"x":{"field":"x","type":"quantitative"},"y":{"field":"y","type":"quantitative"},"text":{"field":"s"}}},
{"data":{"values":[{"x":187.9,"y":201.8,"s":"1.0"}]},"mark":{"type":"text","align":"left","baseline":"alphabetic","font":"Liberation Sans","fontSize":86,"color":"black"},"encoding":{"x":{"field":"x","type":"quantitative"},"y":{"field":"y","type":"quantitative"},"text":{"field":"s"}}}
]}
